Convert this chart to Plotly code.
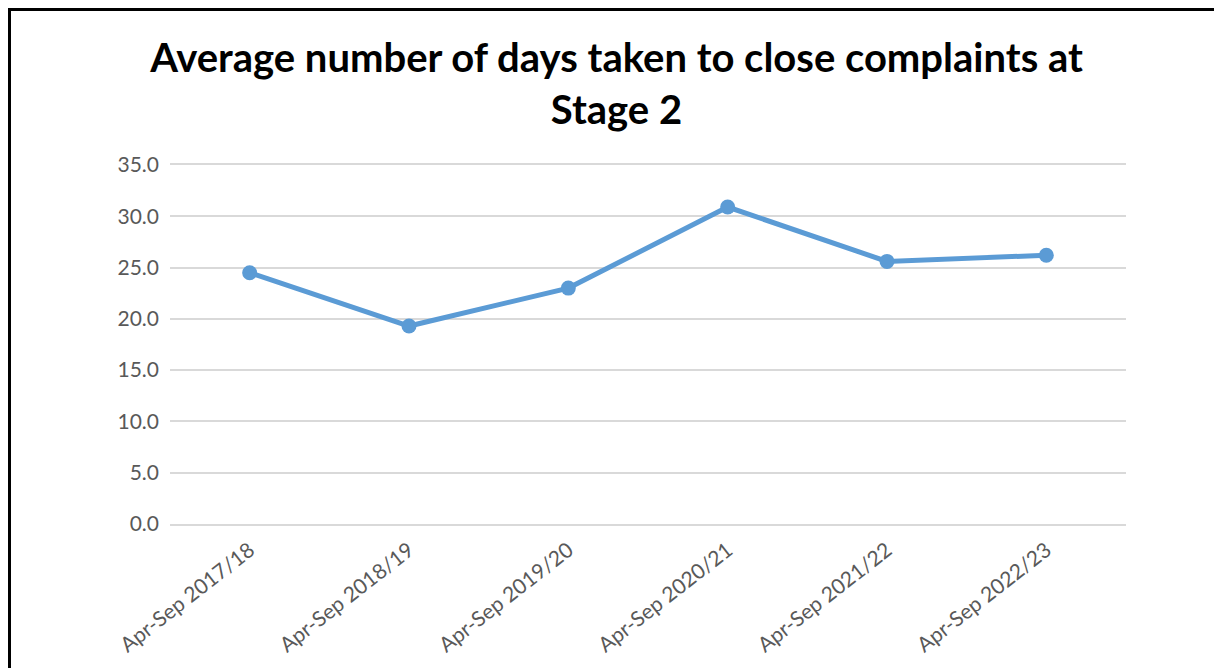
import plotly.graph_objects as go

categories = ["Apr-Sep 2017/18", "Apr-Sep 2018/19", "Apr-Sep 2019/20",
              "Apr-Sep 2020/21", "Apr-Sep 2021/22", "Apr-Sep 2022/23"]
avg_days = [24.5, 19.3, 23.0, 30.9, 25.6, 26.2]
y_ticks = [0, 5, 10, 15, 20, 25, 30, 35]

# page body has an 8px margin; figure is laid out in page pixels minus 8
OFF = 8
W, H = 1222 - OFF, 668 - OFF
L, R, T, B = 170 - OFF, 96, 165 - OFF, 144
pw, ph = W - L - R, H - T - B

def px_x(px):
    return (px - OFF - L) / pw

def px_y(py):
    return (H - B - (py - OFF)) / ph

FONT = "Lato"
GRID = "#D9D9D9"

fig = go.Figure()
fig.add_trace(go.Scatter(
    x=categories, y=avg_days, mode="lines+markers",
    line=dict(color="#5B9BD5", width=5),
    marker=dict(color="#5B9BD5", size=15),
    showlegend=False, hoverinfo="x+y",
))

fig.update_layout(
    width=W, height=H,
    margin=dict(l=L, r=R, t=T, b=B),
    paper_bgcolor="white", plot_bgcolor="white",
    title=dict(
        text="<b>Average number of days taken to close complaints at<br>Stage 2</b>",
        x=px_x(616.5), xref="paper", xanchor="center",
        y=1 - (72 - OFF) / H, yref="container", yanchor="middle",
        font=dict(family=FONT, size=40, color="black"),
    ),
    xaxis=dict(
        type="category", range=[-0.5, len(categories) - 0.5],
        tickangle=-38, showgrid=False,
        showline=True, mirror=True, linecolor=GRID, linewidth=1.5,
        zeroline=False, ticks="", ticklabelstandoff=4,
        tickfont=dict(family=FONT, size=21, color="#595959"),
    ),
    yaxis=dict(
        range=[0, 35], tickvals=y_ticks, tickformat=".1f",
        showgrid=True, gridcolor=GRID, gridwidth=1.5,
        zeroline=False, showline=False, ticks="", ticklabelstandoff=10,
        tickfont=dict(family=FONT, size=21, color="#595959"),
    ),
    shapes=[
        dict(type="line", xref="paper", yref="paper",
             x0=px_x(9.5), x1=px_x(1240), y0=px_y(9.5), y1=px_y(9.5),
             line=dict(color="black", width=3)),
        dict(type="line", xref="paper", yref="paper",
             x0=px_x(9.5), x1=px_x(9.5), y0=px_y(8), y1=px_y(690),
             line=dict(color="black", width=3)),
    ],
)

fig.write_html("out.html")
